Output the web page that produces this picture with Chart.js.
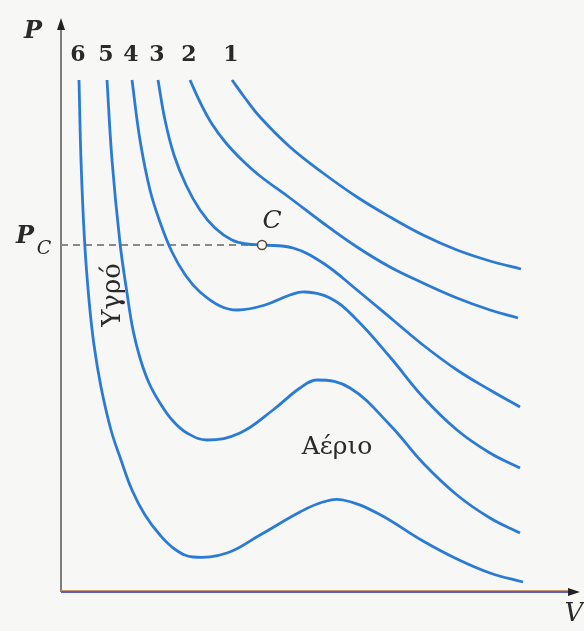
<!DOCTYPE html>
<html>
<head>
<meta charset="utf-8">
<script src="https://cdn.jsdelivr.net/npm/chart.js@4"></script>
<style>
    html, body { margin: 0; padding: 0; background: #f7f7f5; }
    #wrap { width: 584px; height: 631px; position: relative; }
</style>
</head>
<body>
<div id="wrap"><canvas id="isoChart"></canvas></div>
<script>
// Isotherm values (V, P) in arbitrary units, curve 1 is the hottest
var curveNames = ['1', '2', '3', '4', '5', '6'];

var v1 = [17.1, 18.4, 19.9, 22.9, 26.2, 29.6, 32.9, 36.2, 39.6, 42.9, 46.0];
var p1 = [51.2, 49.4, 47.5, 44.5, 41.9, 39.5, 37.5, 35.7, 34.2, 33.1, 32.3];

var v2 = [12.9, 13.9, 15.1, 16.5, 18.1, 19.9, 22.9, 26.2, 29.6, 32.9, 36.2, 39.6, 42.9, 45.7];
var p2 = [51.2, 49.0, 46.8, 44.9, 43.2, 41.6, 39.4, 36.9, 34.5, 32.5, 30.9, 29.4, 28.2, 27.4];

var v3 = [9.7, 10.4, 11.3, 12.5, 13.9, 15.4, 17.1, 18.6, 20.1, 23.2, 26.2, 29.6, 33.2, 36.2, 39.6, 42.9, 45.9];
var p3 = [51.2, 47.2, 43.7, 40.7, 38.2, 36.4, 35.2, 34.8, 34.7, 34.4, 32.9, 30.2, 27.2, 24.7, 22.2, 20.2, 18.5];

var v4 = [7.1, 7.9, 8.9, 9.9, 11.1, 12.5, 13.9, 15.9, 17.7, 20.4, 22.9, 24.4, 26.9, 29.4, 32.9, 36.2, 39.6, 42.9, 45.9];
var p4 = [51.2, 45.2, 40.2, 37.0, 34.0, 31.6, 30.0, 28.6, 28.2, 28.7, 29.7, 30.0, 29.4, 27.4, 23.5, 19.5, 16.2, 13.9, 12.4];

var v5 = [4.6, 5.1, 5.9, 6.6, 7.2, 7.9, 8.8, 9.9, 11.2, 12.6, 14.6, 17.9, 21.2, 23.9, 25.6, 28.9, 32.9, 36.2, 39.6, 42.9, 45.9];
var p5 = [51.2, 43.2, 34.9, 29.9, 26.2, 23.4, 20.9, 18.9, 17.1, 15.9, 15.2, 15.9, 18.2, 20.4, 21.2, 20.4, 16.7, 12.9, 9.7, 7.4, 5.9];

var v6 = [1.8, 2.0, 2.35, 2.8, 3.3, 4.0, 5.0, 6.0, 7.1, 8.4, 9.9, 11.5, 13.2, 16.6, 19.9, 23.9, 26.2, 28.2, 31.6, 36.2, 39.6, 42.9, 46.2];
var p6 = [51.2, 43.2, 35.2, 29.2, 24.7, 20.5, 16.2, 13.2, 10.2, 7.7, 5.7, 4.2, 3.5, 3.9, 5.7, 8.0, 9.0, 9.2, 7.9, 5.1, 3.3, 1.9, 1.0];

// critical point on isotherm 3
var critV = 20.1;
var critP = 34.7;

var vMax = 51.9;
var pMax = 57.4;
var nameRowP = 53.7;

var curveV = [v1, v2, v3, v4, v5, v6];
var curveP = [p1, p2, p3, p4, p5, p6];

function toPoints(vs, ps) {
    return vs.map(function (v, i) { return { x: v, y: ps[i] }; });
}

var lineColor = '#2b7bd4';
var datasets = curveV.map(function (vs, k) {
    return {
        label: curveNames[k],
        data: toPoints(vs, curveP[k]),
        borderColor: lineColor,
        borderWidth: 2.8,
        pointRadius: 0,
        fill: false,
        tension: 0.4
    };
});

var serif = '"DejaVu Serif", "Liberation Serif", serif';

// axes, dashed P_C level and all the text labels
var decorPlugin = {
    id: 'isothermDecor',
    beforeDatasetsDraw: function (chart) {
        var ctx = chart.ctx;
        var xs = chart.scales.x, ys = chart.scales.y;
        var x0 = xs.getPixelForValue(0), y0 = ys.getPixelForValue(0);
        var xEnd = xs.getPixelForValue(vMax), yEnd = ys.getPixelForValue(pMax);
        ctx.save();

        // P axis
        ctx.strokeStyle = '#555';
        ctx.lineWidth = 1.5;
        ctx.beginPath();
        ctx.moveTo(x0, y0);
        ctx.lineTo(x0, yEnd + 8);
        ctx.stroke();
        ctx.fillStyle = '#222';
        ctx.beginPath();
        ctx.moveTo(x0, yEnd);
        ctx.lineTo(x0 - 4, yEnd + 12);
        ctx.lineTo(x0 + 4, yEnd + 12);
        ctx.closePath();
        ctx.fill();

        // V axis
        ctx.strokeStyle = '#c9946a';
        ctx.lineWidth = 1;
        ctx.beginPath();
        ctx.moveTo(x0, y0 - 1.5);
        ctx.lineTo(xEnd - 8, y0 - 1.5);
        ctx.stroke();
        ctx.strokeStyle = '#5b5fc4';
        ctx.lineWidth = 2;
        ctx.beginPath();
        ctx.moveTo(x0, y0);
        ctx.lineTo(xEnd - 8, y0);
        ctx.stroke();
        ctx.fillStyle = '#222';
        ctx.beginPath();
        ctx.moveTo(xEnd, y0);
        ctx.lineTo(xEnd - 12, y0 - 4);
        ctx.lineTo(xEnd - 12, y0 + 4);
        ctx.closePath();
        ctx.fill();

        // dashed critical pressure level
        var yc = ys.getPixelForValue(critP);
        ctx.strokeStyle = '#8a8a86';
        ctx.lineWidth = 2;
        ctx.setLineDash([7, 5]);
        ctx.beginPath();
        ctx.moveTo(x0, yc);
        ctx.lineTo(xs.getPixelForValue(critV), yc);
        ctx.stroke();
        ctx.restore();
    },
    afterDatasetsDraw: function (chart) {
        var ctx = chart.ctx;
        var xs = chart.scales.x, ys = chart.scales.y;
        var x0 = xs.getPixelForValue(0), y0 = ys.getPixelForValue(0);
        var xc = xs.getPixelForValue(critV), yc = ys.getPixelForValue(critP);
        ctx.save();

        // critical point marker
        ctx.fillStyle = '#fbfaf6';
        ctx.strokeStyle = '#5a4636';
        ctx.lineWidth = 1.5;
        ctx.beginPath();
        ctx.arc(xc, yc, 4.5, 0, Math.PI * 2);
        ctx.fill();
        ctx.stroke();

        ctx.fillStyle = '#2a2a2a';
        ctx.textAlign = 'center';
        ctx.textBaseline = 'middle';

        // isotherm numbers above each curve
        ctx.font = 'bold 22px ' + serif;
        var yName = ys.getPixelForValue(nameRowP);
        curveV.forEach(function (vs, k) {
            ctx.fillText(curveNames[k], xs.getPixelForValue(vs[0]) - 1, yName);
        });

        ctx.font = 'italic 25px ' + serif;
        ctx.fillText('C', xc + 10, yc - 24);
        ctx.font = 'bold italic 24px ' + serif;
        ctx.fillText('P', x0 - 28, ys.getPixelForValue(pMax) + 14);
        ctx.fillText('P', x0 - 36, yc - 8);
        ctx.font = 'italic 19px ' + serif;
        ctx.fillText('C', x0 - 17, yc + 4);
        ctx.font = 'italic 26px ' + serif;
        ctx.fillText('V', xs.getPixelForValue(vMax) - 6, y0 + 22);

        ctx.font = '25px ' + serif;
        ctx.fillText('Αέριο', 337, 447);

        ctx.translate(113, 295);
        ctx.rotate(-Math.PI / 2);
        ctx.font = '26px ' + serif;
        ctx.fillText('Υγρό', 0, 0);
        ctx.restore();
    }
};

var ctx = document.getElementById('isoChart').getContext('2d');
var isoChart = new Chart(ctx, {
    type: 'line',
    data: { datasets: datasets },
    options: {
        responsive: true,
        maintainAspectRatio: false,
        animation: false,
        layout: { padding: { left: 61, right: 4, top: 18, bottom: 39 } },
        plugins: {
            legend: { display: false },
            tooltip: { enabled: false }
        },
        scales: {
            x: { type: 'linear', min: 0, max: vMax, display: false },
            y: { type: 'linear', min: 0, max: pMax, display: false }
        }
    },
    plugins: [decorPlugin]
});
</script>
</body>
</html>
